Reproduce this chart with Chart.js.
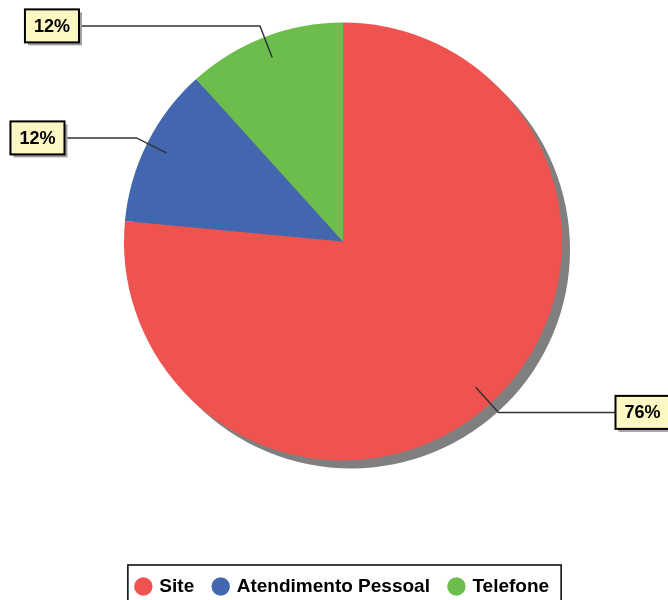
<!DOCTYPE html>
<html>
<head>
    <title>Canal de atendimento</title>
    <script src="https://cdn.jsdelivr.net/npm/chart.js"></script>
    <style>
        body { margin: 0; background: #fff; }
    </style>
</head>
<body>
    <div style="width: 668px; height: 600px">
        <canvas id="pieChart" width="668" height="600"></canvas>
    </div>

    <script>
    // chart data
    const categories = ['Site', 'Atendimento Pessoal', 'Telefone'];
    const shares = [76.5, 11.8, 11.7];
    const shareLabels = ['76%', '12%', '12%'];
    const sliceColors = ['#ef534f', '#4267af', '#6cbd4b'];

    // grey drop shadow behind the pie
    const pieShadow = {
        id: 'pieShadow',
        beforeDatasetsDraw(chart) {
            const arc = chart.getDatasetMeta(0).data[0];
            if (!arc) return;
            const ctx = chart.ctx;
            ctx.save();
            ctx.fillStyle = '#7f7f7f';
            ctx.beginPath();
            ctx.arc(arc.x + 8, arc.y + 8, arc.outerRadius, 0, Math.PI * 2);
            ctx.fill();
            ctx.restore();
        }
    };

    // yellow boxes with leader lines
    const lineLengths = [117, 72, 181];
    const calloutLabels = {
        id: 'calloutLabels',
        afterDatasetsDraw(chart) {
            const ctx = chart.ctx;
            const arcs = chart.getDatasetMeta(0).data;
            ctx.save();
            ctx.font = 'bold 18px "Liberation Sans", Arial, sans-serif';
            ctx.textBaseline = 'middle';
            arcs.forEach((arc, i) => {
                const mid = (arc.startAngle + arc.endAngle) / 2;
                const R = arc.outerRadius;
                const cos = Math.cos(mid), sin = Math.sin(mid);
                const x1 = arc.x + cos * R * 0.9, y1 = arc.y + sin * R * 0.9;
                const x2 = arc.x + cos * R * 1.055, y2 = arc.y + sin * R * 1.055;
                const dir = cos >= 0 ? 1 : -1;
                const x3 = x2 + dir * lineLengths[i];

                ctx.strokeStyle = '#333';
                ctx.lineWidth = 1.5;
                ctx.beginPath();
                ctx.moveTo(x1, y1);
                ctx.lineTo(x2, y2);
                ctx.lineTo(x3, y2);
                ctx.stroke();

                const txt = shareLabels[i];
                const w = ctx.measureText(txt).width + 18;
                const h = 33;
                const bx = dir > 0 ? x3 : x3 - w;
                const by = y2 - h / 2;
                ctx.fillStyle = '#a0a0a0';
                ctx.fillRect(bx + 3, by + 3, w, h);
                ctx.fillStyle = '#fdf7c3';
                ctx.fillRect(bx, by, w, h);
                ctx.strokeStyle = '#000';
                ctx.lineWidth = 2;
                ctx.strokeRect(bx, by, w, h);
                ctx.fillStyle = '#000';
                ctx.textAlign = 'center';
                ctx.fillText(txt, bx + w / 2, y2 + 1);
            });
            ctx.restore();
        }
    };

    // frame around the legend
    const legendFrame = {
        id: 'legendFrame',
        afterDraw(chart) {
            const boxes = chart.legend.legendHitBoxes;
            if (!boxes || !boxes.length) return;
            const left = Math.min(...boxes.map(b => b.left)) - 9;
            const right = Math.max(...boxes.map(b => b.left + b.width)) + 12;
            const top = Math.min(...boxes.map(b => b.top)) - 12;
            const ctx = chart.ctx;
            ctx.save();
            ctx.strokeStyle = '#000';
            ctx.lineWidth = 1.5;
            ctx.strokeRect(left, top, right - left, chart.height - top + 5);
            ctx.restore();
        }
    };

    new Chart(document.getElementById('pieChart').getContext('2d'), {
        type: 'pie',
        data: {
            labels: categories,
            datasets: [{
                data: shares,
                backgroundColor: sliceColors,
                borderWidth: 0
            }]
        },
        options: {
            responsive: false,
            animation: false,
            radius: 219,
            layout: {
                padding: { top: 0, bottom: -6, left: 18, right: 0 }
            },
            plugins: {
                legend: {
                    position: 'bottom',
                    // empty title only makes the legend band taller
                    title: {
                        display: true,
                        text: '',
                        font: { size: 10, lineHeight: 1 },
                        padding: { top: 64, bottom: 0 }
                    },
                    labels: {
                        usePointStyle: true,
                        pointStyle: 'circle',
                        boxWidth: 13,
                        boxHeight: 13,
                        padding: 20,
                        color: '#000',
                        font: { family: '"Liberation Sans", Arial, sans-serif', size: 19, weight: 'bold' }
                    }
                },
                tooltip: { enabled: false }
            }
        },
        plugins: [pieShadow, calloutLabels, legendFrame]
    });
    </script>
</body>
</html>
